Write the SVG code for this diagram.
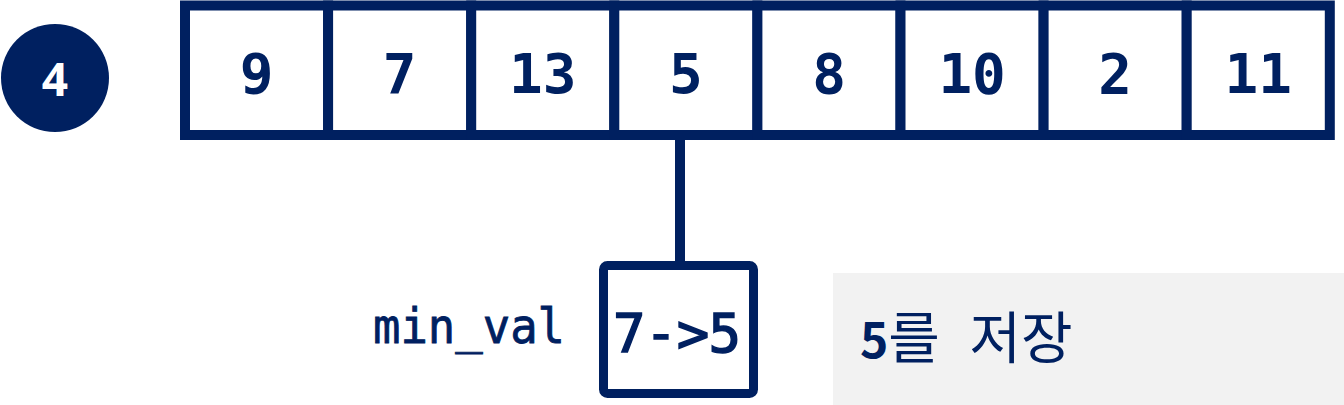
<svg xmlns="http://www.w3.org/2000/svg" width="1344" height="405" viewBox="0 0 1344 405">
<style>
.cell{fill:#fff;stroke:#002060;stroke-width:10}
.num{font-family:"DejaVu Sans Mono",monospace;font-weight:bold;font-size:56px;fill:#002060;text-anchor:middle}
.lbl{font-family:"DejaVu Sans Mono",monospace;font-size:48px;fill:#002060}
.kr{font-family:"Noto Sans CJK KR","Noto Sans",sans-serif;font-size:56px;fill:#002060}
</style>
<rect width="1344" height="405" fill="#fff"/>
<g id="step">
<circle cx="55" cy="78" r="54" fill="#002060"/>
<text x="55" y="96" font-family="Noto Sans, sans-serif" font-weight="bold" font-size="46" fill="#fff" text-anchor="middle">4</text>
</g>
<g id="cell0"><rect class="cell" x="185" y="5.5" width="143.1" height="129.5"/><text class="num" x="256.6" y="93">9</text></g>
<g id="cell1"><rect class="cell" x="328.1" y="5.5" width="143.1" height="129.5"/><text class="num" x="399.7" y="93">7</text></g>
<g id="cell2"><rect class="cell" x="471.2" y="5.5" width="143.1" height="129.5"/><text class="num" x="542.8" y="93">13</text></g>
<g id="cell3"><rect class="cell" x="614.3" y="5.5" width="143.1" height="129.5"/><text class="num" x="685.9" y="93">5</text></g>
<g id="cell4"><rect class="cell" x="757.4" y="5.5" width="143.1" height="129.5"/><text class="num" x="829" y="93">8</text></g>
<g id="cell5"><rect class="cell" x="900.5" y="5.5" width="143.1" height="129.5"/><text class="num" x="972.1" y="93">10</text></g>
<g id="cell6"><rect class="cell" x="1043.6" y="5.5" width="143.1" height="129.5"/><text class="num" x="1115.2" y="93">2</text></g>
<g id="cell7"><rect class="cell" x="1186.7" y="5.5" width="143.1" height="129.5"/><text class="num" x="1258.3" y="93">11</text></g>
<g id="connectors">
<line x1="680" y1="138" x2="680" y2="262" stroke="#002060" stroke-width="10"/>
</g>
<g id="minval">
<text class="lbl" x="373" y="343" stroke="#002060" stroke-width="0.8" textLength="192" lengthAdjust="spacingAndGlyphs">min_val</text>
<rect x="603.5" y="265.5" width="150" height="128" rx="4" fill="#fff" stroke="#002060" stroke-width="9"/>
<text x="613" y="352" font-family="DejaVu Sans Mono, monospace" font-size="54" fill="#002060" stroke="#002060" stroke-width="1.5" textLength="128" lengthAdjust="spacing">7-&gt;5</text>
</g>
<g id="note">
<rect x="833" y="273" width="511" height="132" fill="#f2f2f2"/>
<text class="kr" x="860" y="358"><tspan font-weight="bold" font-size="48">5</tspan><tspan>를 </tspan><tspan dx="17">저장</tspan></text>
</g>
</svg>
